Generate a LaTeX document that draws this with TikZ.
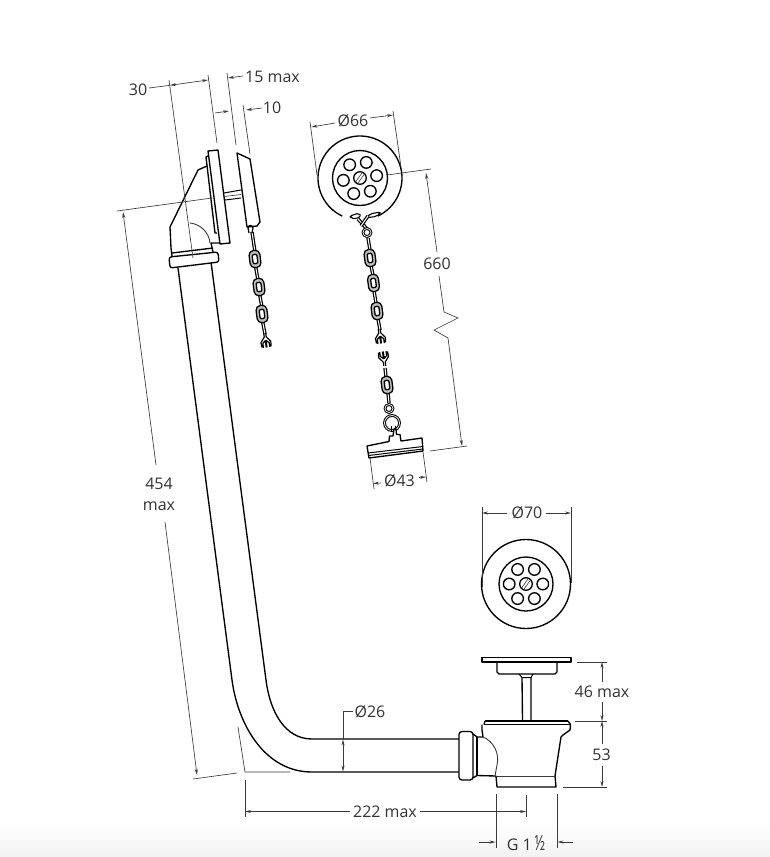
\documentclass[tikz,border=0pt]{standalone}
\usepackage{fontspec}
\setmainfont{Open Sans}
\usetikzlibrary{arrows.meta}
\definecolor{dimc}{HTML}{3A3A3A}
\definecolor{txtc}{HTML}{333333}
\newcommand{\flink}[2]{\begin{scope}[shift={(#1,#2)},rotate=7.5]
  \draw[part,fill=black!25,line width=1.3pt,rounded corners=4.5] (-5.4,-8.6) rectangle (5.4,8.6);
  \draw[part,fill=white,rounded corners=1.2,line width=1.3pt] (-2.4,-4.6) rectangle (2.4,4.6);
\end{scope}}
\newcommand{\elink}[4]{\draw[line width=3.4pt,black,line cap=butt] (#1,#2) -- (#3,#4);\draw[line width=1pt,white,line cap=butt] (#1,#2) -- (#3,#4);}
\newcommand{\ringlink}[3]{\draw[part,fill=white,line width=2.8pt] (#1,#2) circle (#3);\draw[white,line width=.7pt] (#1,#2) circle (#3);}
\newcommand{\openlink}[4]{\begin{scope}[shift={(#1,#2)},rotate=#3,yscale=#4]
  \draw[part,line width=1.2pt] (-1,-6) -- (-1,-2) -- (-5,3) -- (-4.5,8) (-3.2,8.5) -- (-3.2,4) -- (-.4,1.5) -- (-.4,8.5);
  \draw[part,line width=1.2pt] (1,-6) -- (1,-2) -- (5,3) -- (4.5,8) (3.2,8.5) -- (3.2,4) -- (.4,1.5) -- (.4,8.5);
\end{scope}}
\newcommand{\strainer}[4]{% x y innerR holeAngles
  \foreach \a in {#4} {\draw[part] (#1,#2) ++(\a:16.8) circle (5.8);}
  \draw[part] (#1,#2) circle (#3);
  \draw[part] (#1,#2) circle (6.3);
  \begin{scope}[shift={(#1,#2)},rotate=55]
    \draw[dimc,line width=.6pt] (-5.6,-1.3) -- (5.6,-1.3) (-5.6,1.3) -- (5.6,1.3);
  \end{scope}}
\tikzset{
  part/.style={black,line width=1.35pt,line join=round},
  dimline/.style={dimc,line width=.65pt},
  dimtip/.style={dimline,arrows={-Stealth[length=6pt,width=3pt]}},
  dimboth/.style={dimline,arrows={Stealth[length=6pt,width=3pt]-Stealth[length=6pt,width=3pt]}},
  lab/.style={text=txtc,font=\fontsize{16}{21}\selectfont,inner sep=0pt,align=center}
}
\begin{document}
\begin{tikzpicture}[x=1pt,y=-1pt]
\useasboundingbox (0,0) rectangle (770,857);
\fill[white] (0,0) rectangle (770,857);
\shade[top color=white,bottom color=black!5] (0,822) rectangle (770,857);

% ---------- pipe
\draw[part] (178,268) -- (232,680) .. controls (238,725) and (265,772) .. (312,772) -- (459,772);
\draw[part] (211,262) -- (266,680) .. controls (270,712) and (285,739) .. (312,739) -- (459,739);
% elbow
\draw[part,rounded corners=2.5,fill=white] (169,257) -- (218,252) -- (219,262) -- (170,268) -- cycle;
\draw[part] (172,253) -- (213,248);
\draw[part] (172,256) -- (171,248) -- (170,227) -- (198,170) -- (207,166);
\draw[part] (213,252) -- (211,243) -- (220,243);
\draw[dimline,line width=.9pt] (190,223) .. controls (200,224) and (209,232) .. (210,243);
% wall plate
\draw[part,fill=white] (208,151) -- (218,150) -- (230,243) -- (220,244) -- cycle;
\draw[part] (208,156) -- (206,157) -- (215,233) -- (217,233);
% rod
\draw[part,line width=1pt] (224,193) -- (241,190) (225,200) -- (241,198);
\draw[dimline] (224,196.5) -- (241,194.5);
% cap
\draw[part,fill=white] (237,153) -- (250,159) -- (260,222) -- (257,226) -- (247,227) -- cycle;

% ---------- left chain
\elink{252}{232}{255}{252}
\elink{255.5}{266}{258}{280}
\elink{259.5}{294}{262}{307}
\elink{262.5}{321}{265}{334}
\draw[part,line width=1.2pt] (249,233) -- (248,228) .. controls (248,225) and (252,224) .. (253,228) -- (252,233);
\flink{255}{259}\flink{259}{287}\flink{262}{314}
\openlink{265.5}{339}{7.5}{1}

% ---------- top strainer
\draw[part] (360,178) ++(115:42) arc [start angle=115,end angle=425,radius=42];
\strainer{360}{178}{27.5}{-8,52,112,172,232,292}
% ears
\draw[part,line width=1.1pt,rounded corners=2] (350,216) -- (359,213) -- (361,216) -- (356,219) -- (351,218) -- cycle;
\draw[part,line width=1.1pt,rounded corners=2] (380,212) -- (370,214) -- (367,217) -- (372,217.5) -- (380,214.5) -- cycle;
\elink{358}{219}{368}{230}
\elink{368}{216}{361}{226}

% ---------- upper chain
\elink{368}{238}{370}{250}
\elink{371}{266}{373}{275}
\elink{374}{291}{376}{303}
\elink{378}{319}{380}{330}
\ringlink{367}{232.5}{4}
\flink{370}{258}\flink{373.5}{283}\flink{377}{311}
\openlink{380}{335}{7.5}{1}

% ---------- lower chain and plug
\elink{385}{368}{386}{377}
\elink{388}{393}{389}{403}
\openlink{384}{360}{7.5}{-1}
\flink{387}{385}
\ringlink{389}{408.5}{4}
\ringlink{392}{423}{7.5}
\draw[part,line width=1pt] (391.5,426) -- (391.5,431) (395,426) -- (395,431);
\draw[part,fill=white] (367,446) -- (389,441.5) -- (389.5,436) -- (393,436) -- (394,429) -- (396,429) -- (396.5,434.5) -- (400,434.5) -- (401,441) -- (422,438) -- (423,451) -- (369,458) -- cycle;
\draw[part,line width=1pt] (368,453) -- (423,446.5) (368.5,455.5) -- (423,449);

% ---------- drain
\strainer{526}{584}{27}{0,60,120,180,240,300}
\draw[part] (526,584) circle (44.5);
% plug on stem
\draw[part,fill=white] (482,657.5) rectangle (571,662);
\draw[part] (497,663) -- (497,672) -- (499,674) -- (555,674) -- (557,672) -- (557,663);
\draw[part,line width=1pt] (519,674) -- (522,677.5) -- (531,677.5) -- (533,674);
\draw[part] (522,677) -- (522.5,720) (531,677) -- (531,720);
% body
\draw[part] (485,721) -- (568,721);
\draw[part] (484,724.5) -- (570.5,724.5);
\draw[part] (485,721) -- (484,724.5) (568,721) -- (570.5,724.5);
\draw[part] (570.5,724.5) -- (570,730) -- (563,735) -- (561,737) -- (555,776) -- (556,787) -- (497,787) -- (496,776) -- (477,775.5);
\draw[part] (482,724.5) -- (482,730) -- (483,737) -- (477,737);
\draw[dimline,line width=.9pt] (496,776) -- (555,776);
\draw[dimline,line width=.9pt] (483,737) .. controls (493,741) and (500,753) .. (497,765) -- (495,776);
\draw[part] (477,737) -- (477,775.5);
\draw[part] (473,734) -- (477,737) (473,778) -- (477,775.5);
\draw[part,rounded corners=3,fill=white] (459,731.5) rectangle (473,780);

% ---------- dimension: 30 / 15 max / 10
\draw[dimline] (169,80) -- (193,258);
\draw[dimline] (208,75) -- (217,143);
\draw[dimline] (227,73) -- (236,145);
\draw[dimline] (243,105) -- (250,154);
\node[lab] (d30) at (138,90) {30};
\draw[dimline] (149,88) -- (170,85.3);
\draw[dimboth] (170,85.3) -- (208,80);
\draw[dimtip] (215,113) -- (229,111);
\node[lab] (d15) at (272.5,77) {15 max};
\draw[dimtip] (243,76) -- (228,78);
\node[lab] (d10) at (272,108) {10};
\draw[dimtip] (262,108) -- (246,110);

% ---------- Ø66
\draw[dimline] (310,122) -- (317,175);
\draw[dimline] (393,111) -- (401,167);
\node[lab] (d66) at (353,121) {Ø66};
\draw[dimtip] (335,123) -- (311.5,127);
\draw[dimtip] (370,118) -- (393,115);

% ---------- 660
\draw[dimline] (387,175) -- (431,169);
\draw[dimtip] (437,252) -- (426,173);
\node[lab] (d660) at (437,264) {660};
\draw[dimline] (439,276) -- (444,312) -- (458,318) -- (434,330) -- (448,338);
\draw[dimtip] (448,338) -- (462,446);
\draw[dimline] (430,451) -- (467,446);

% ---------- Ø43
\draw[dimline] (370,458) -- (374,489);
\draw[dimline] (423,452) -- (427,482);
\node[lab] (d43) at (399.5,481) {Ø43};
\draw[dimtip] (381,483) -- (373,483.5);
\draw[dimtip] (419,477.5) -- (426,477);

% ---------- 454
\draw[dimline] (117,211) -- (212,198);
\draw[dimtip] (156,465) -- (123,212);
\node[lab] (d454) at (159,494) {454\\max};
\draw[dimtip] (165,522) -- (197,775);
\draw[dimline] (193,779) -- (237,773);

% ---------- pipe dims
\draw[dimline] (238,727) -- (245,772) -- (290,772);
\draw[dimline] (245,780) -- (245,817);
\node[lab] (d222) at (385,812) {222 max};
\draw[dimtip] (350,811.5) -- (245,811.5);
\draw[dimtip] (420,811.5) -- (526,811.5);
\draw[dimline] (526,795) -- (526,817);
\node[lab] (d26) at (370,712) {Ø26};
\draw[dimline] (353,711) -- (343,711) -- (343,739);
\draw[dimboth] (343,739.5) -- (343,771.5);

% ---------- Ø70
\draw[dimline] (482,507) -- (482,587);
\draw[dimline] (571,507) -- (571,583);
\node[lab] (d70) at (527,513) {Ø70};
\draw[dimtip] (507,513) -- (482,513);
\draw[dimtip] (546,513) -- (571,513);

% ---------- right dims
\draw[dimline] (577,662) -- (607,662);
\draw[dimline] (575,721) -- (607,721);
\draw[dimline] (563,787) -- (607,787);
\node[lab] (d46) at (602,692) {46 max};
\draw[dimtip] (602,682) -- (602,662);
\draw[dimtip] (602,702) -- (602,721);
\node[lab] (d53) at (601.5,755) {53};
\draw[dimtip] (602,744) -- (602,721);
\draw[dimtip] (602,766) -- (602,787);

% ---------- G 1 1/2
\draw[dimline] (496,794) -- (496,848);
\draw[dimline] (557,794) -- (557,848);
\node[lab] (dG) at (526,843) {G 1\,\scalebox{.85}[1.3]{½}};
\draw[dimtip] (479,842) -- (495.5,842);
\draw[dimtip] (573,842) -- (557.5,842);
\end{tikzpicture}
\end{document}
